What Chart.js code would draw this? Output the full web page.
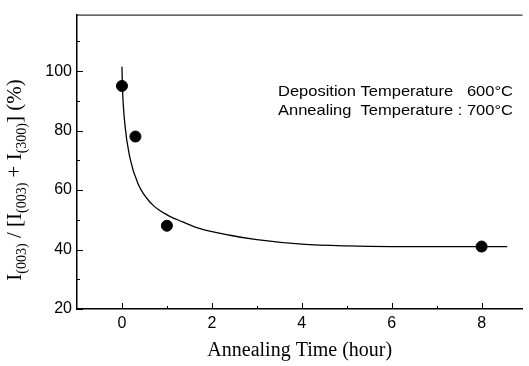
<!DOCTYPE html>
<html>
<head>
<meta charset="utf-8">
<script src="https://cdn.jsdelivr.net/npm/chart.js@4/dist/chart.umd.min.js"></script>
<style>
  html, body { margin: 0; padding: 0; background: #fff; }
  #wrap { width: 529px; height: 366px; }
</style>
</head>
<body>
<div id="wrap"><canvas id="chart"></canvas></div>
<script>
// measured points
const timeHours = [0, 0.3, 1, 8];
const ratioPct = [95, 78, 48, 41];

// fitted curve
const curveHours = [0, 0.01, 0.066, 0.175, 0.36, 0.65, 1.02, 1.35, 1.7, 2.4, 3.0, 4.0, 5.0, 6.0, 7.0, 8.0, 8.57];
const curvePct = [101.5, 95, 82, 71, 62, 55.5, 51.5, 49.3, 47.2, 44.8, 43.3, 41.8, 41.2, 41, 41, 41, 41];

const xTicks = [0, 2, 4, 6, 8];
const xMinor = [1, 3, 5, 7];
const yTicks = [20, 40, 60, 80, 100];
const yMinor = [30, 50, 70, 90, 110];

const notes = ['Deposition Temperature   600°C', 'Annealing  Temperature : 700°C'];

// frame, inward ticks, y title with subscripts, notes
const decorations = {
    id: 'decorations',
    afterDraw(chart) {
        const ctx = chart.ctx;
        const area = chart.chartArea;
        const xs = chart.scales.x;
        const ys = chart.scales.y;
        ctx.save();
        ctx.strokeStyle = '#000';
        ctx.lineWidth = 1;

        // top border
        ctx.beginPath();
        ctx.moveTo(area.left, area.top + 0.5);
        ctx.lineTo(area.right, area.top + 0.5);
        ctx.stroke();

        ctx.beginPath();
        xTicks.forEach(v => {
            const px = Math.round(xs.getPixelForValue(v)) + 0.5;
            ctx.moveTo(px, area.bottom);
            ctx.lineTo(px, area.bottom - 6);
        });
        xMinor.forEach(v => {
            const px = Math.round(xs.getPixelForValue(v)) + 0.5;
            ctx.moveTo(px, area.bottom);
            ctx.lineTo(px, area.bottom - 3);
        });
        yTicks.forEach(v => {
            const py = Math.round(ys.getPixelForValue(v)) + 0.5;
            ctx.moveTo(area.left, py);
            ctx.lineTo(area.left + 6, py);
        });
        yMinor.forEach(v => {
            const py = Math.round(ys.getPixelForValue(v)) + 0.5;
            ctx.moveTo(area.left, py);
            ctx.lineTo(area.left + 3, py);
        });
        ctx.stroke();

        // notes (the scan is a bit stretched sideways)
        ctx.fillStyle = '#000';
        ctx.font = '15px "Liberation Sans", Arial, sans-serif';
        ctx.textAlign = 'left';
        ctx.textBaseline = 'alphabetic';
        ctx.save();
        ctx.translate(area.left + 201, 0);
        ctx.scale(1.1, 1);
        ctx.fillText(notes[0], 0, area.top + 81);
        ctx.fillText(notes[1], 0, area.top + 100);
        ctx.restore();

        // y title: I(003) / [I(003) + I(300)] (%)
        const parts = [
            ['I', 0], ['(003)', 1], [' / [', 0], ['I', 0], ['(003)', 1],
            [' + ', 0], ['I', 0], ['(300)', 1], ['] (%)', 0]
        ];
        const mainFont = '21px "Liberation Serif", "Times New Roman", serif';
        const subFont = '14px "Liberation Serif", "Times New Roman", serif';
        let total = 0;
        parts.forEach(p => {
            ctx.font = p[1] ? subFont : mainFont;
            total += ctx.measureText(p[0]).width;
        });
        ctx.translate(21, 180);
        ctx.rotate(-Math.PI / 2);
        let pos = -total / 2;
        parts.forEach(p => {
            ctx.font = p[1] ? subFont : mainFont;
            ctx.fillText(p[0], pos, p[1] ? 5 : 0);
            pos += ctx.measureText(p[0]).width;
        });
        ctx.restore();
    }
};

const ctx = document.getElementById('chart').getContext('2d');
new Chart(ctx, {
    type: 'scatter',
    data: {
        datasets: [{
            label: 'fit',
            data: curveHours.map((h, i) => ({ x: h, y: curvePct[i] })),
            showLine: true,
            borderColor: '#000',
            borderWidth: 1.3,
            pointRadius: 0,
            cubicInterpolationMode: 'monotone'
        }, {
            label: 'measured',
            data: timeHours.map((h, i) => ({ x: h, y: ratioPct[i] })),
            backgroundColor: '#000',
            borderColor: '#000',
            pointRadius: 5.5
        }]
    },
    options: {
        responsive: true,
        maintainAspectRatio: false,
        animation: false,
        layout: { padding: { top: 8, right: 0, bottom: 0, left: 0 } },
        plugins: {
            legend: { display: false },
            tooltip: { enabled: false }
        },
        scales: {
            x: {
                type: 'linear',
                min: -1,
                max: 8.91,
                afterBuildTicks: scale => { scale.ticks = xTicks.map(v => ({ value: v })); },
                afterFit: scale => { scale.height = 57; },
                grid: { display: false, drawTicks: false },
                border: { color: '#000', width: 1.5 },
                ticks: {
                    padding: 5,
                    color: '#000',
                    font: { family: '"Liberation Sans", Arial, sans-serif', size: 16 }
                },
                title: {
                    display: true,
                    text: 'Annealing Time (hour)',
                    color: '#000',
                    padding: { top: 2, bottom: 3 },
                    font: { family: '"Liberation Serif", "Times New Roman", serif', size: 20 }
                }
            },
            y: {
                min: 20,
                max: 119,
                afterBuildTicks: scale => { scale.ticks = yTicks.map(v => ({ value: v })); },
                afterFit: scale => { scale.width = 77; },
                grid: { display: false, drawTicks: false },
                border: { color: '#000', width: 1.5 },
                ticks: {
                    padding: 5,
                    color: '#000',
                    font: { family: '"Liberation Sans", Arial, sans-serif', size: 16 }
                }
            }
        }
    },
    plugins: [decorations]
});
</script>
</body>
</html>
